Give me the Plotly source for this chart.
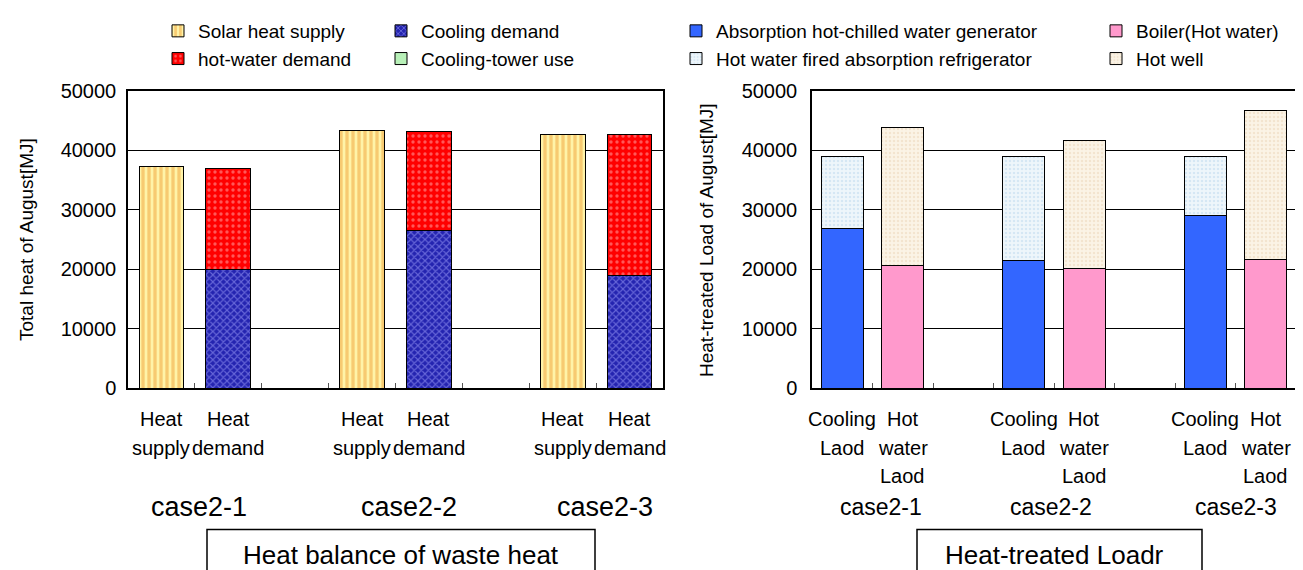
import plotly.graph_objects as go

W, H = 1303, 570

# ---------------- data ----------------
left_categories = ["2-1 supply", "2-1 demand", "gap 1", "2-2 supply", "2-2 demand", "gap 2", "2-3 supply", "2-3 demand"]
left_tick_labels = [["Heat", "supply"], ["Heat", "demand"], [], ["Heat", "supply"], ["Heat", "demand"], [],
                    ["Heat", "supply"], ["Heat", "demand"]]
supply_bars = ["2-1 supply", "2-2 supply", "2-3 supply"]
demand_bars = ["2-1 demand", "2-2 demand", "2-3 demand"]
solar_heat_supply = [37300, 43400, 42700]
cooling_demand = [19900, 26500, 19000]
hot_water_demand = [17100, 16700, 23700]
cooling_tower_use = [0, 0, 0]

right_categories = ["2-1 cooling", "2-1 hot", "gap 1", "2-2 cooling", "2-2 hot", "gap 2", "2-3 cooling", "2-3 hot"]
right_tick_labels = [["Cooling", "Laod"], ["Hot", "water", "Laod"], [], ["Cooling", "Laod"], ["Hot", "water", "Laod"], [],
                     ["Cooling", "Laod"], ["Hot", "water", "Laod"]]
cooling_bars = ["2-1 cooling", "2-2 cooling", "2-3 cooling"]
hot_bars = ["2-1 hot", "2-2 hot", "2-3 hot"]
absorption_generator = [26800, 21400, 29000]
hw_fired_refrigerator = [12100, 17500, 9900]
boiler_hot_water = [20600, 20200, 21600]
hot_well = [23200, 21500, 25200]

case_labels = ["case2-1", "case2-2", "case2-3"]
left_title = "Heat balance of waste heat"
right_title = "Heat-treated Loadr"
left_ytitle = "Total heat of August[MJ]"
right_ytitle = "Heat-treated Load of August[MJ]"

FONT = "Liberation Sans, Arial, sans-serif"


def px(x):
    return x / W


def py(y):
    return 1 - y / H


line = dict(color="#000000", width=1)

fig = go.Figure()

# ---- left chart ----
fig.add_trace(go.Bar(name="Solar heat supply", x=supply_bars, y=solar_heat_supply, width=0.67,
                     marker=dict(color="#FFF0A0", line=line,
                                 pattern=dict(shape="|", bgcolor="#FFF3A8", fgcolor="#EFA23A", size=6, solidity=0.55)),
                     xaxis="x", yaxis="y", legend="legend"))
fig.add_trace(go.Bar(name="Cooling demand", x=demand_bars, y=cooling_demand, width=0.67,
                     marker=dict(color="#2828B8", line=line,
                                 pattern=dict(shape="x", bgcolor="#2424B0", fgcolor="#A8A8FF", size=5, solidity=0.4)),
                     xaxis="x", yaxis="y", legend="legend2"))
fig.add_trace(go.Bar(name="hot-water demand", x=demand_bars, y=hot_water_demand, width=0.67,
                     marker=dict(color="#FF0000", line=line,
                                 pattern=dict(shape=".", bgcolor="#FF0000", fgcolor="#FFB0B0", size=6, solidity=0.25)),
                     xaxis="x", yaxis="y", legend="legend"))
fig.add_trace(go.Bar(name="Cooling-tower use", x=demand_bars, y=cooling_tower_use, width=0.67,
                     marker=dict(color="#B8F0B8", line=line),
                     xaxis="x", yaxis="y", legend="legend2"))

# ---- right chart ----
fig.add_trace(go.Bar(name="Absorption hot-chilled water generator", x=cooling_bars, y=absorption_generator, width=0.7,
                     marker=dict(color="#3366FF", line=line),
                     xaxis="x2", yaxis="y2", legend="legend3"))
fig.add_trace(go.Bar(name="Hot water fired absorption refrigerator", x=cooling_bars, y=hw_fired_refrigerator, width=0.7,
                     marker=dict(color="#EEF6FB", line=line,
                                 pattern=dict(shape=".", bgcolor="#EEF6FB", fgcolor="#BBD8EC", size=4, solidity=0.3)),
                     xaxis="x2", yaxis="y2", legend="legend3"))
fig.add_trace(go.Bar(name="Boiler(Hot water)", x=hot_bars, y=boiler_hot_water, width=0.7,
                     marker=dict(color="#FF99CC", line=line),
                     xaxis="x2", yaxis="y2", legend="legend4"))
fig.add_trace(go.Bar(name="Hot well", x=hot_bars, y=hot_well, width=0.7,
                     marker=dict(color="#FBF3E6", line=line,
                                 pattern=dict(shape=".", bgcolor="#FBF3E6", fgcolor="#EAD4B8", size=4, solidity=0.3)),
                     xaxis="x2", yaxis="y2", legend="legend4"))

top, bottom = 83, 380
xcommon = dict(type="category", range=[-0.5, 7.5], showticklabels=False, ticks="inside", tickson="boundaries",
               ticklen=5, tickcolor="#555555", showline=True, mirror=True, linecolor="#000000", linewidth=1.5,
               showgrid=False, zeroline=False, fixedrange=True)
ycommon = dict(range=[0, 50000], dtick=10000, showgrid=True, gridcolor="#000000", gridwidth=1,
               showline=True, mirror=True, linecolor="#000000", linewidth=1.5, ticks="", zeroline=False,
               tickfont=dict(size=20, color="#000000", family=FONT), tickformat="d", automargin=False)

legend_common = dict(orientation="v", font=dict(size=19, color="#000000", family=FONT), bgcolor="rgba(0,0,0,0)",
                     borderwidth=0, xanchor="left", yanchor="top", itemwidth=30, tracegroupgap=0,
                     traceorder="normal")

fig.update_layout(
    width=W, height=H, margin=dict(l=0, r=0, t=0, b=0, autoexpand=False),
    paper_bgcolor="white", plot_bgcolor="white",
    barmode="stack", font=dict(family=FONT, size=20, color="#000000"),
    xaxis=dict(domain=[px(120), px(655)], categoryorder="array", categoryarray=left_categories, anchor="y",
               **xcommon),
    yaxis=dict(domain=[py(bottom), py(top)], anchor="x", ticklabelstandoff=6, **ycommon),
    xaxis2=dict(domain=[px(804), px(1288)], categoryorder="array", categoryarray=right_categories, anchor="y2",
                **xcommon),
    yaxis2=dict(domain=[py(bottom), py(top)], anchor="x2", ticklabelstandoff=9, **ycommon),
    legend=dict(x=px(150), y=py(4), **legend_common),
    legend2=dict(x=px(373), y=py(4), **legend_common),
    legend3=dict(x=px(668), y=py(4), **legend_common),
    legend4=dict(x=px(1088), y=py(4), **legend_common),
    showlegend=True,
)

annotations = []
# category tick labels (one annotation per text line, placed on the category axes)
for axis, cats, labels in (("x", left_categories, left_tick_labels), ("x2", right_categories, right_tick_labels)):
    for cat, lines in zip(cats, labels):
        for j, txt in enumerate(lines):
            annotations.append(dict(x=cat, xref=axis, y=py(411 + j * 28.5), yref="paper", text=txt,
                                    showarrow=False, xanchor="center", yanchor="middle",
                                    font=dict(size=20, family=FONT, color="#000000")))

# case labels
for cx, txt in zip([191, 401, 597], case_labels):
    annotations.append(dict(x=px(cx), xref="paper", y=py(499), yref="paper", text=txt, showarrow=False,
                            xanchor="center", yanchor="middle", font=dict(size=27, family=FONT, color="#000000")))
for cx, txt in zip([873, 1043, 1228], case_labels):
    annotations.append(dict(x=px(cx), xref="paper", y=py(499), yref="paper", text=txt, showarrow=False,
                            xanchor="center", yanchor="middle", font=dict(size=23, family=FONT, color="#000000")))

# boxed titles
annotations.append(dict(x=px(393), xref="paper", y=py(547), yref="paper", text=left_title, showarrow=False,
                        xanchor="center", yanchor="middle", font=dict(size=26, family=FONT, color="#000000")))
annotations.append(dict(x=px(1046), xref="paper", y=py(547), yref="paper", text=right_title, showarrow=False,
                        xanchor="center", yanchor="middle", font=dict(size=26, family=FONT, color="#000000")))

# y axis titles
annotations.append(dict(x=px(19), xref="paper", y=py(232), yref="paper", text=left_ytitle, textangle=-90,
                        showarrow=False, xanchor="center", yanchor="middle",
                        font=dict(size=19, family=FONT, color="#000000")))
annotations.append(dict(x=px(699), xref="paper", y=py(232), yref="paper", text=right_ytitle, textangle=-90,
                        showarrow=False, xanchor="center", yanchor="middle",
                        font=dict(size=19, family=FONT, color="#000000")))

shapes = [
    dict(type="rect", xref="paper", yref="paper", x0=px(199), x1=px(587), y0=py(521.5), y1=py(585),
         line=dict(color="#000000", width=1.5), fillcolor="rgba(0,0,0,0)"),
    dict(type="rect", xref="paper", yref="paper", x0=px(909), x1=px(1194), y0=py(521.5), y1=py(585),
         line=dict(color="#000000", width=1.5), fillcolor="rgba(0,0,0,0)"),
]

fig.update_layout(annotations=annotations, shapes=shapes)

fig.write_html("out.html")
